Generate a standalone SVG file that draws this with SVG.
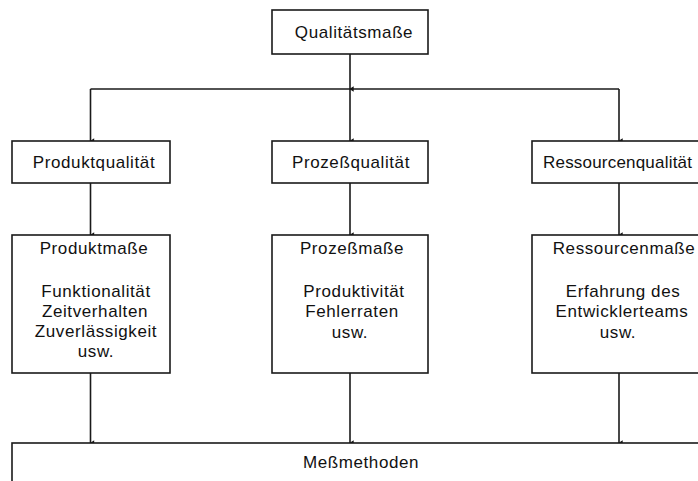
<svg xmlns="http://www.w3.org/2000/svg" width="698" height="481" viewBox="0 0 698 481">
  <defs>
    <marker id="tip" markerUnits="userSpaceOnUse" markerWidth="6" markerHeight="5" refX="3" refY="4" orient="auto-start-reverse" viewBox="0 0 6 5">
      <path d="M0.3,0.3 L5.7,0.3 L3,4.6 Z" fill="#111"/>
    </marker>
    <style>
      .box { fill: #ffffff; stroke: #1a1a1a; stroke-width: 1.6; }
      .lbl { font-family: "Liberation Sans", Arial, sans-serif; font-size: 17px; letter-spacing: 0.6px; fill: #111; text-anchor: middle; }
      .wire { fill: none; stroke: #1a1a1a; stroke-width: 1.6; }
    </style>
  </defs>

  <rect width="698" height="481" fill="#ffffff"/>

  <!-- connectors -->
  <g id="connectors">
    <line class="wire" x1="350" y1="54" x2="350" y2="89" marker-end="url(#tip)"/>
    <line class="wire" x1="90.5" y1="89" x2="619" y2="89"/>
    <line class="wire" x1="90.5" y1="89" x2="90.5" y2="141" marker-end="url(#tip)"/>
    <line class="wire" x1="350" y1="89" x2="350" y2="141" marker-end="url(#tip)"/>
    <line class="wire" x1="619" y1="89" x2="619" y2="141" marker-end="url(#tip)"/>
    <line class="wire" x1="90.5" y1="183" x2="90.5" y2="235" marker-end="url(#tip)"/>
    <line class="wire" x1="350" y1="183" x2="350" y2="235" marker-end="url(#tip)"/>
    <line class="wire" x1="619" y1="183" x2="619" y2="235" marker-end="url(#tip)"/>
    <line class="wire" x1="90.5" y1="373" x2="90.5" y2="443" marker-end="url(#tip)"/>
    <line class="wire" x1="350" y1="373" x2="350" y2="443" marker-end="url(#tip)"/>
    <line class="wire" x1="619" y1="373" x2="619" y2="443" marker-end="url(#tip)"/>
  </g>

  <!-- top level -->
  <g id="qualitaetsmasse">
    <rect class="box" x="272" y="10" width="156" height="44"/>
    <text class="lbl" x="354" y="38">Qualitätsmaße</text>
  </g>

  <!-- quality categories -->
  <g id="produktqualitaet">
    <rect class="box" x="12" y="141" width="158" height="42"/>
    <text class="lbl" x="94" y="168">Produktqualität</text>
  </g>
  <g id="prozessqualitaet">
    <rect class="box" x="272" y="141" width="156" height="42"/>
    <text class="lbl" x="351" y="168">Prozeßqualität</text>
  </g>
  <g id="ressourcenqualitaet">
    <rect class="box" x="532" y="141" width="180" height="42"/>
    <text class="lbl" x="543" y="168" style="text-anchor:start;letter-spacing:0.2px">Ressourcenqualität</text>
  </g>

  <!-- measures -->
  <g id="produktmasse">
    <rect class="box" x="12" y="235" width="158" height="138"/>
    <text class="lbl" x="94" y="254">Produktmaße</text>
    <text class="lbl" x="96" y="297">Funktionalität</text>
    <text class="lbl" x="95" y="317">Zeitverhalten</text>
    <text class="lbl" x="96" y="337">Zuverlässigkeit</text>
    <text class="lbl" x="96" y="357">usw.</text>
  </g>
  <g id="prozessmasse">
    <rect class="box" x="272" y="235" width="156" height="138"/>
    <text class="lbl" x="352" y="254">Prozeßmaße</text>
    <text class="lbl" x="354" y="297">Produktivität</text>
    <text class="lbl" x="352" y="317">Fehlerraten</text>
    <text class="lbl" x="350" y="338">usw.</text>
  </g>
  <g id="ressourcenmasse">
    <rect class="box" x="532" y="235" width="180" height="138"/>
    <text class="lbl" x="624" y="254">Ressourcenmaße</text>
    <text class="lbl" x="623" y="297">Erfahrung des</text>
    <text class="lbl" x="622" y="317">Entwicklerteams</text>
    <text class="lbl" x="618" y="338">usw.</text>
  </g>

  <!-- measurement methods -->
  <g id="messmethoden">
    <rect class="box" x="12" y="443" width="710" height="60"/>
    <text class="lbl" x="361" y="468">Meßmethoden</text>
  </g>
</svg>
